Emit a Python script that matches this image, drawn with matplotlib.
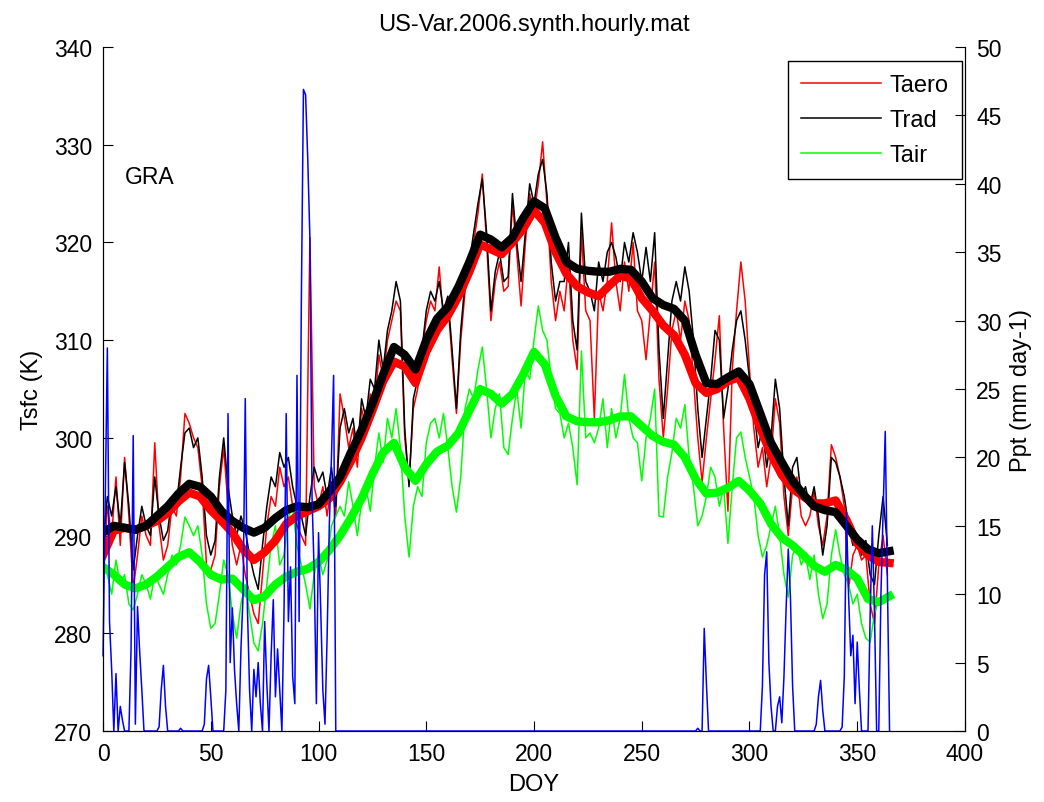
import numpy as np
import matplotlib
matplotlib.use('Agg')
import matplotlib.pyplot as plt

plt.rcParams['font.family'] = ['Liberation Sans', 'DejaVu Sans']

# daily-ish values, every 2 days
thin_days = np.arange(0, 366, 2)

taero = [286, 293, 290, 296, 289, 298, 292, 284.5, 288, 292,
         290, 289, 299.5, 291, 287.5, 289, 293, 292, 296, 302.5,
         301.5, 300, 299, 295, 287, 286.5, 288, 295, 299, 293,
         289, 287, 289, 286, 284, 282, 281, 286, 291, 294,
         293, 297, 295, 296, 293, 291, 290, 289, 320.5, 295,
         293, 295, 292, 295.5, 292, 304.5, 302, 299, 301, 297,
         303, 301, 304.5, 303, 308.5, 306, 310, 312, 314, 313,
         300, 295.5, 303, 305, 309, 312, 314, 313, 317.5, 312,
         314, 308, 302.5, 310, 315, 317, 320, 323, 327, 320,
         312, 316, 318, 315, 315.5, 324, 319, 313.5, 320, 325,
         323, 326, 330.3, 324, 316, 312, 315, 313, 318, 310,
         307, 321, 313, 312, 302, 315, 313, 316, 322, 316,
         313, 318, 315, 320, 313, 312, 308, 313, 318, 306,
         300, 305, 311, 313, 310, 314, 312, 306, 300, 295.5,
         300, 304, 308, 312.5, 301, 292.5, 307, 313, 318, 314,
         307, 301, 297, 299, 295, 298, 304, 301.5, 294, 290,
         295, 296, 292, 291, 292, 294.5, 291, 289, 292, 299.3,
         298, 296, 293, 284.6, 288, 289, 287.5, 288, 283, 281,
         287, 290, 286]

trad = [289, 294, 292, 295, 291, 297.5, 293, 286.5, 290, 293,
        291, 290, 296, 292, 289.5, 290.5, 294, 293, 297, 300.5,
        301, 299, 300, 296, 290, 288, 289.5, 296, 300, 295,
        292, 290, 292, 290.5, 288, 286, 284.5, 289, 293, 296,
        295, 298.5, 297, 298, 295, 293, 292, 290, 294, 297,
        295.5, 296.5, 294, 297, 293, 301, 303, 300.5, 302, 298.5,
        304, 302, 306, 305, 310, 307, 311, 313, 316, 314,
        301, 295, 304, 306, 309, 313, 315, 314, 316, 313,
        314.5, 309, 303, 311, 316, 318, 321, 324, 326.5, 321,
        313, 317, 319, 316, 316.5, 325, 320, 316, 321, 326,
        324, 327, 328.5, 325, 318, 314, 316, 316, 320, 312,
        309, 323, 316, 315, 313, 318, 316, 319, 320, 318.5,
        316, 320, 318, 321, 319, 316, 319.5, 316, 321, 309,
        302, 308, 314, 316, 314, 317.5, 315, 310, 303, 298,
        302, 306, 311, 310, 302, 305, 309, 312, 313, 310,
        306, 303, 299, 301, 297, 300, 306, 303, 296, 291,
        297, 298, 294, 295, 293, 295, 292, 288, 291, 298,
        297.5, 296, 294, 291, 289, 290, 288, 289.5, 286, 285,
        290, 294, 289]

tair = [287, 286, 284, 287.5, 285, 286, 283, 282.4, 284, 286,
        285, 283.5, 286, 285, 284, 286, 288, 287, 289, 291.9,
        291, 290, 291, 288, 283, 280.5, 281, 284, 287.5, 286,
        282, 279.5, 283, 285, 282, 279, 278.2, 281, 285, 289,
        291, 287, 288, 292, 292.8, 289, 287, 285, 282.5, 286,
        288, 286, 287.5, 291, 292, 293, 292, 295.5, 293, 290,
        293.5, 295, 292.5, 297, 300.5, 297.5, 302, 300, 303, 299,
        292, 287.8, 293, 295, 294, 299.5, 301.5, 302, 300, 302.5,
        299, 295, 292.4, 296, 303, 305, 304, 307, 309.3, 305,
        300, 303, 304.5, 299, 298.3, 302, 305, 301, 307, 306,
        310, 313.5, 311, 310, 306, 303, 302.5, 300, 301.5, 299,
        295.2, 308.9, 300, 300.5, 299.5, 301, 304, 299, 303, 300,
        302, 306.5, 302, 300, 299.5, 295.6, 300, 302, 305, 292,
        291.9, 296, 298.5, 302, 301, 303.4, 298, 295, 291, 292,
        294, 297, 296, 293, 295, 289.2, 295, 300, 300.6, 298,
        296, 294, 290, 287.8, 289, 291, 293, 290, 286, 283.7,
        288, 289, 287, 288, 285.5, 288, 284, 281.5, 283, 288,
        290.6, 288, 286, 285, 283, 284, 281, 279.5, 279.1, 282,
        283.5, 283.2, 284]

# smoothed curves, every 5 days
smooth_days = np.arange(0, 366, 5)

taero_smooth = [288, 290.5, 290.8, 290.6, 291, 291.5, 292.3, 293.5, 294.4, 294,
                292.6, 291.5, 290.3, 288.6, 287.5, 288.3, 289.5, 291.2, 292, 292.5,
                293, 293.8, 295.5, 297.6, 300, 302.8, 305.8, 307.8, 307.3, 305.6,
                308.8, 311, 312.5, 314.5, 317, 319.8, 319.3, 318.8, 320, 321.4,
                323.3, 322, 319, 316.8, 315.5, 314.9, 314.5, 315.6, 316.6, 316.3,
                314.3, 313, 311.5, 310.5, 308.5, 305.6, 304.6, 305, 305.8, 306.2,
                304, 301, 298.3, 296.2, 294.8, 294, 293.3, 293.3, 293.6, 291.6,
                289.2, 288, 287.3, 287.2]

trad_smooth = [290.3, 291, 290.8, 290.6, 291, 292, 293, 294.3, 295.3, 295,
               294, 292.5, 291.5, 290.8, 290.3, 290.8, 291.8, 292.6, 293, 292.9,
               293.2, 294.5, 296, 298.5, 300.8, 303.5, 306.5, 309.3, 308.5, 307,
               310, 312.2, 313.4, 315.5, 318, 320.8, 320.3, 319.5, 320.5, 322.5,
               324.2, 323.5, 320.5, 318, 317.3, 317.1, 317, 317, 317.3, 317.2,
               316, 314.3, 313.6, 313.2, 312, 308.5, 305.6, 305.5, 306.2, 306.8,
               305.5, 302.5, 299.5, 297.5, 295.6, 294.2, 293, 292.6, 292.4, 291,
               289.6, 288.6, 288.2, 288.4]

tair_smooth = [286.8, 286, 285, 284.6, 285, 285.8, 286.8, 287.8, 288.3, 287.3,
               286, 285.5, 285.6, 284.5, 283.4, 283.8, 285, 285.8, 286.3, 286.6,
               287.3, 288.5, 290, 291.8, 293.8, 296.3, 298.5, 299.5, 297, 295.6,
               297.3, 298.6, 299.2, 300.5, 302.8, 305, 304.5, 303.5, 304.5, 306.5,
               308.8, 307.5, 304.3, 302.2, 301.7, 301.6, 301.6, 301.8, 302.2, 302.2,
               301.2, 300.2, 299.6, 299.3, 298, 295.8, 294.3, 294.4, 294.9, 295.6,
               294.6, 293.3, 291.2, 289.8, 289, 288, 286.9, 286.3, 287, 286.5,
               285.6, 283.5, 283.2, 283.8]

# rainy days (everything else is 0)
precip_days = [0, 1, 2, 3, 4, 6, 8, 9, 13, 14, 15, 16, 17, 18, 26, 27, 28, 29, 36, 47, 48, 49, 50,
               57, 58, 59, 60, 61, 62, 64, 65, 66, 67, 68, 70, 71, 72, 73, 75, 76, 78, 79, 80, 81, 82,
               84, 85, 86, 87, 88, 89, 90, 91, 92, 93, 94, 95, 96, 97, 98, 99, 100, 101, 102, 103,
               104, 105, 106, 107,
               276, 279, 280, 306, 307, 308, 309, 310, 313, 314, 315, 316, 317, 318, 319, 320,
               331, 332, 333, 334, 343, 344, 345, 346, 347, 348, 349, 350, 351, 356, 357, 358,
               361, 362, 363, 364]
precip_mm = [5.5, 16.5, 28, 8, 4.5, 4.2, 1.8, 0.8, 6, 21.6, 0.5, 9.1, 5.8, 3, 0.3, 3, 4.8, 1.8, 0.2, 0.5, 3.8, 4.8, 2.5,
             3, 23.2, 5, 9, 4.5, 2, 6, 10, 24.3, 9, 3, 4.5, 2.5, 5, 2, 8, 3.5, 5.5, 9.6, 2.5, 6, 3,
             9, 23.2, 8, 12, 4, 2, 26, 8, 31, 46.9, 46.5, 41.8, 36, 17, 11.5, 2, 14.5, 9, 3, 0.5,
             7, 15, 20, 26,
             0.2, 7.5, 3.5, 3.3, 11.4, 13.1, 5, 1.8, 1.8, 2.5, 0.6, 4, 9, 13.3, 9.8, 3.3,
             0.5, 2.5, 3.7, 1.5, 0.3, 4, 16, 9.8, 5.5, 7, 2, 6.5, 3, 8.5, 15, 8.6,
             10, 16, 21.9, 10.8]

days = np.arange(0, 366)
ppt = np.zeros(len(days))
ppt[precip_days] = precip_mm

green = (0, 1, 0)

fig = plt.figure(figsize=(10.44, 8.03), dpi=100)
ax = fig.add_axes([0.0987, 0.0884, 0.8256, 0.8518])

ax.plot(thin_days, taero, color='red', lw=1.1, label='Taero')
ax.plot(thin_days, trad, color='black', lw=1.1, label='Trad')
ax.plot(thin_days, tair, color=green, lw=1.1, label='Tair')
ax.plot(smooth_days, taero_smooth, color='red', lw=6)
ax.plot(smooth_days, trad_smooth, color='black', lw=6)
ax.plot(smooth_days, tair_smooth, color=green, lw=6)

ax.set_xlim(0, 400)
ax.set_ylim(270, 340)
ax.set_xticks(range(0, 401, 50))
ax.set_yticks(range(270, 341, 10))
ax.tick_params(direction='in', length=7, labelsize=16.5, pad=8, top=False, right=False)
ax.spines['top'].set_visible(False)
ax.set_xlabel('DOY', fontsize=17, labelpad=6)
ax.set_ylabel('Tsfc (K)', fontsize=17, labelpad=8)
ax.set_title('US-Var.2006.synth.hourly.mat', fontsize=17, pad=12)
ax.text(10, 326.7, 'GRA', fontsize=16.5, va='center')

leg = ax.legend(loc='upper right', bbox_to_anchor=(0.9965, 0.9795), borderaxespad=0,
                fontsize=17, handlelength=3.4, handletextpad=0.36, labelspacing=0.55,
                borderpad=0.55, fancybox=False, framealpha=1, edgecolor='black')
leg.get_frame().set_linewidth(1)

ax2 = ax.twinx()
ax2.plot(days, ppt, color='blue', lw=1.1, clip_on=False)
ax2.set_ylim(0, 50)
ax2.set_yticks(range(0, 51, 5))
ax2.tick_params(direction='in', length=7, labelsize=16.5, pad=8)
ax2.spines['top'].set_visible(False)
ax2.set_ylabel('Ppt (mm day-1)', fontsize=17, labelpad=6)

fig.savefig('out.png', dpi=100)
